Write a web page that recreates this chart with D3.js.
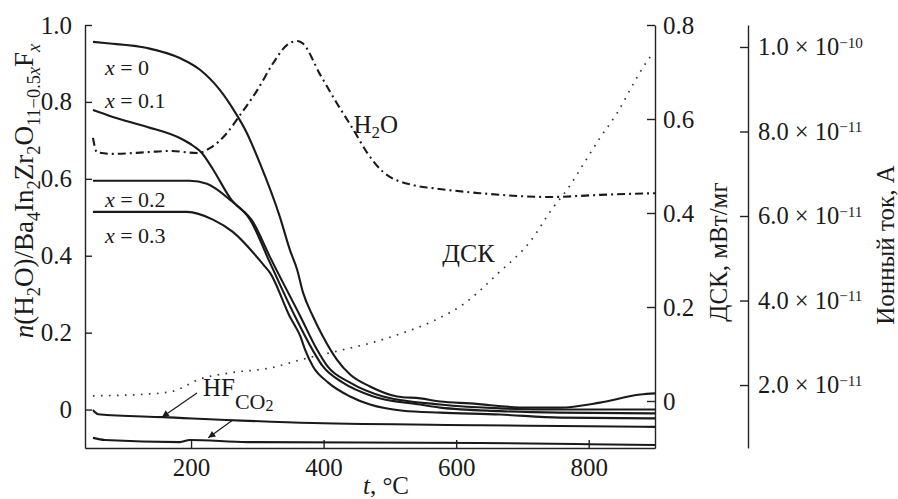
<!DOCTYPE html>
<html><head><meta charset="utf-8">
<script src="https://cdn.jsdelivr.net/npm/d3@7/dist/d3.min.js"></script>
<style>
html,body{margin:0;padding:0;background:#fff}
svg{display:block}
text{font-family:"Liberation Serif","Times New Roman",serif;fill:#1a1a1a}
</style>
</head><body><div id="chart"></div>
<script>
// ---------- data ----------
const xTicks = [200, 400, 600, 800];
const nTicks = [0, 0.2, 0.4, 0.6, 0.8, 1.0];
const dscTicks = [0, 0.2, 0.4, 0.6, 0.8];
const ionTicks = [2, 4, 6, 8, 10];            // ×1e-11 A
const ionTickMant = ["2.0", "4.0", "6.0", "8.0", "1.0"];
const ionTickExp = ["−11", "−11", "−11", "−11", "−10"];

// n(H2O) curves, x = 0 ... 0.3
const t_x0 = [52,70,134,183,214,244,264,284,304,334,349,360,369,384,399,420,440,470,511,546,576,621,709,757,817,878,900];
const n_x0 = [0.956,0.953,0.940,0.914,0.883,0.830,0.780,0.720,0.640,0.501,0.416,0.364,0.304,0.242,0.190,0.130,0.091,0.060,0.034,0.029,0.021,0.016,0.005,0.005,0.018,0.039,0.042];
const t_x1 = [52,82,134,183,203,216,233,259,294,319,365,390,406,440,490,576,666,757,900];
const n_x1 = [0.779,0.761,0.735,0.706,0.686,0.668,0.625,0.550,0.486,0.397,0.242,0.156,0.112,0.070,0.034,0.013,0.003,0.000,0.000];
const t_x2 = [52,198,224,259,289,319,357,383,399,429,475,546,576,666,757,900];
const n_x2 = [0.595,0.595,0.587,0.545,0.494,0.382,0.242,0.156,0.112,0.070,0.034,0.013,0.005,-0.004,-0.008,-0.010];
const t_x3 = [52,194,233,263,309,319,349,365,372,384,407,440,470,520,576,666,757,900];
const n_x3 = [0.514,0.514,0.494,0.462,0.377,0.356,0.242,0.190,0.156,0.112,0.070,0.034,0.013,-0.003,-0.008,-0.013,-0.021,-0.023];

// DSC, mW/mg
const t_dsc = [52,138,173,214,259,319,369,420,470,520,571,611,662,712,746,768,792,817,843,867,888,897];
const dsc   = [0.011,0.015,0.021,0.047,0.060,0.070,0.089,0.106,0.123,0.145,0.174,0.206,0.270,0.340,0.411,0.451,0.504,0.560,0.613,0.674,0.723,0.740];

// ion current, ×1e-11 A
const t_h2o   = [52,58,82,134,168,209,229,254,274,300,324,345,360,368,395,420,445,466,490,535,565,636,742,817,900];
const ion_h2o = [7.85,7.51,7.47,7.51,7.54,7.49,7.61,7.96,8.39,8.98,9.62,10.05,10.14,10.09,9.34,8.67,8.04,7.49,7.04,6.73,6.66,6.54,6.45,6.50,6.54];
const t_hf   = [52,60,158,384,636,757,900];
const ion_hf = [1.41,1.31,1.24,1.10,1.05,1.03,1.01];
const t_co2   = [52,70,183,198,285,636,800,900];
const ion_co2 = [0.75,0.70,0.65,0.70,0.65,0.63,0.60,0.58];

// curve labels (position in data units of the left axis)
const curveLabels = ["0", "0.1", "0.2", "0.3"];
const curveLabelT = [70, 70, 70, 70];
const curveLabelN = [0.870, 0.784, 0.527, 0.434];

// ---------- chart ----------
const W = 898, H = 499;
const svg = d3.select("#chart").append("svg").attr("width", W).attr("height", H);
svg.append("rect").attr("width", W).attr("height", H).attr("fill", "#fff");

const x  = d3.scaleLinear([40, 900], [85, 655]);
const yN = d3.scaleLinear([-0.1, 1.0], [448, 25]);
const yD = d3.scaleLinear([-0.1, 0.8], [448, 25]);
const yI = d3.scaleLinear([0.51, 10.52], [448, 25]);

const FONT = '"Liberation Serif","Times New Roman",serif';
const fmt = d => d === 0 ? "0" : d3.format(".1f")(d);

function styleAxis(g, fs) {
  g.attr("font-family", FONT).attr("font-size", fs);
  g.selectAll(".domain").attr("stroke", "#222").attr("stroke-width", 1.4);
  g.selectAll(".tick line").attr("stroke", "#222").attr("stroke-width", 1.4);
  g.selectAll(".tick text").attr("fill", "#1a1a1a");
}

// left axis
svg.append("g").attr("transform", "translate(85,0)")
  .call(d3.axisLeft(yN).tickValues(nTicks).tickSizeInner(-7).tickSizeOuter(0).tickPadding(13).tickFormat(fmt))
  .call(g => styleAxis(g, 25));
// bottom axis
svg.append("g").attr("transform", "translate(0,448)")
  .call(d3.axisBottom(x).tickValues(xTicks).tickSizeInner(-8).tickSizeOuter(0).tickPadding(10))
  .call(g => styleAxis(g, 25));
// right DSC axis
svg.append("g").attr("transform", "translate(655,0)")
  .call(d3.axisRight(yD).tickValues(dscTicks).tickSizeInner(-8).tickSizeOuter(0).tickPadding(8).tickFormat(fmt))
  .call(g => styleAxis(g, 25));
// ion current axis
svg.append("g").attr("transform", "translate(748,0)")
  .call(d3.axisRight(yI).tickValues(ionTicks).tickSizeInner(-8).tickSizeOuter(0).tickPadding(10).tickFormat(() => ""))
  .call(g => styleAxis(g, 24.5))
  .call(g => g.selectAll(".tick text").each(function(d, i) {
    const t = d3.select(this);
    t.append("tspan").text(ionTickMant[i] + " × 10");
    t.append("tspan").attr("dy", "-0.5em").attr("font-size", "0.62em").text(ionTickExp[i]);
  }));

// axis titles
function richText(g, segs, base) {
  const t = g.append("text").attr("font-size", base);
  let shift = 0;
  segs.forEach(s => {
    const target = s.sub ? base * 0.26 : 0;
    const ts = t.append("tspan").text(s.t).attr("dy", target - shift);
    shift = target;
    if (s.sub) ts.attr("font-size", base * 0.68);
    if (s.it) ts.attr("font-style", "italic");
  });
  return t;
}
const lt = svg.append("g").attr("transform", "translate(33,191) rotate(-90)");
richText(lt, [
  {t: "n", it: true}, {t: "(H"}, {t: "2", sub: true}, {t: "O)/Ba"}, {t: "4", sub: true},
  {t: "In"}, {t: "2", sub: true}, {t: "Zr"}, {t: "2", sub: true}, {t: "O"},
  {t: "11−0.5", sub: true}, {t: "x", sub: true, it: true}, {t: "F"}, {t: "x", sub: true, it: true}
], 27).attr("text-anchor", "middle");

svg.append("text").attr("transform", "translate(727,252) rotate(-90)")
  .attr("text-anchor", "middle").attr("font-size", 25).text("ДСК, мВт/мг");
svg.append("text").attr("transform", "translate(894,245) rotate(-90)")
  .attr("text-anchor", "middle").attr("font-size", 25).text("Ионный ток, А");

const xt = svg.append("text").attr("x", 386).attr("y", 494).attr("text-anchor", "middle").attr("font-size", 25);
xt.append("tspan").attr("font-style", "italic").text("t");
xt.append("tspan").text(", °C");

// ---------- series ----------
const lineN = d3.line().x(d => x(d[0])).y(d => yN(d[1])).curve(d3.curveMonotoneX);
const lineD = d3.line().x(d => x(d[0])).y(d => yD(d[1])).curve(d3.curveMonotoneX);
const lineI = d3.line().x(d => x(d[0])).y(d => yI(d[1])).curve(d3.curveMonotoneX);

[[t_x0, n_x0], [t_x1, n_x1], [t_x2, n_x2], [t_x3, n_x3]].forEach(([t, n]) => {
  svg.append("path").attr("d", lineN(d3.zip(t, n)))
    .attr("fill", "none").attr("stroke", "#1a1a1a").attr("stroke-width", 2.1);
});

svg.append("path").attr("d", lineD(d3.zip(t_dsc, dsc)))
  .attr("fill", "none").attr("stroke", "#333").attr("stroke-width", 1.7)
  .attr("stroke-dasharray", "1.6 6.4");

svg.append("path").attr("d", lineI(d3.zip(t_h2o, ion_h2o)))
  .attr("fill", "none").attr("stroke", "#1a1a1a").attr("stroke-width", 2.1)
  .attr("stroke-dasharray", "8 4 2 4");
svg.append("path").attr("d", lineI(d3.zip(t_hf, ion_hf)))
  .attr("fill", "none").attr("stroke", "#1a1a1a").attr("stroke-width", 2.1);
svg.append("path").attr("d", lineI(d3.zip(t_co2, ion_co2)))
  .attr("fill", "none").attr("stroke", "#1a1a1a").attr("stroke-width", 2.1);

// ---------- labels ----------
curveLabels.forEach((lab, i) => {
  const t = svg.append("text").attr("x", x(curveLabelT[i])).attr("y", yN(curveLabelN[i])).attr("font-size", 22);
  t.append("tspan").attr("font-style", "italic").text("x");
  t.append("tspan").text(" = " + lab);
});

const h2o = svg.append("text").attr("x", x(445)).attr("y", yN(0.719)).attr("font-size", 25);
h2o.append("tspan").text("H");
h2o.append("tspan").attr("font-size", 17).attr("dy", 5).text("2");
h2o.append("tspan").attr("dy", -5).text("O");

svg.append("text").attr("x", x(579)).attr("y", yN(0.384)).attr("font-size", 26).text("ДСК");

const hf = svg.append("text").attr("x", x(218)).attr("y", yN(0.034)).attr("font-size", 25);
hf.append("tspan").text("HF");
hf.append("tspan").attr("font-size", 22).attr("dy", 13).text("CO");
hf.append("tspan").attr("font-size", 16).attr("dy", 2).text("2");

// arrows
const defs = svg.append("defs");
defs.append("marker").attr("id", "ah").attr("viewBox", "0 0 10 10")
  .attr("refX", 10).attr("refY", 5).attr("markerWidth", 10).attr("markerHeight", 7)
  .attr("markerUnits", "userSpaceOnUse").attr("orient", "auto")
  .append("path").attr("d", "M0,0 L10,5 L0,10 z").attr("fill", "#1a1a1a");

const arrowFromT = [209, 263], arrowFromI = [1.81, 1.17];
const arrowToT = [156, 226], arrowToI = [1.24, 0.75];
arrowFromT.forEach((_, i) => {
  svg.append("line")
    .attr("x1", x(arrowFromT[i])).attr("y1", yI(arrowFromI[i]))
    .attr("x2", x(arrowToT[i])).attr("y2", yI(arrowToI[i]))
    .attr("stroke", "#1a1a1a").attr("stroke-width", 1.2).attr("marker-end", "url(#ah)");
});
</script>
</body></html>
